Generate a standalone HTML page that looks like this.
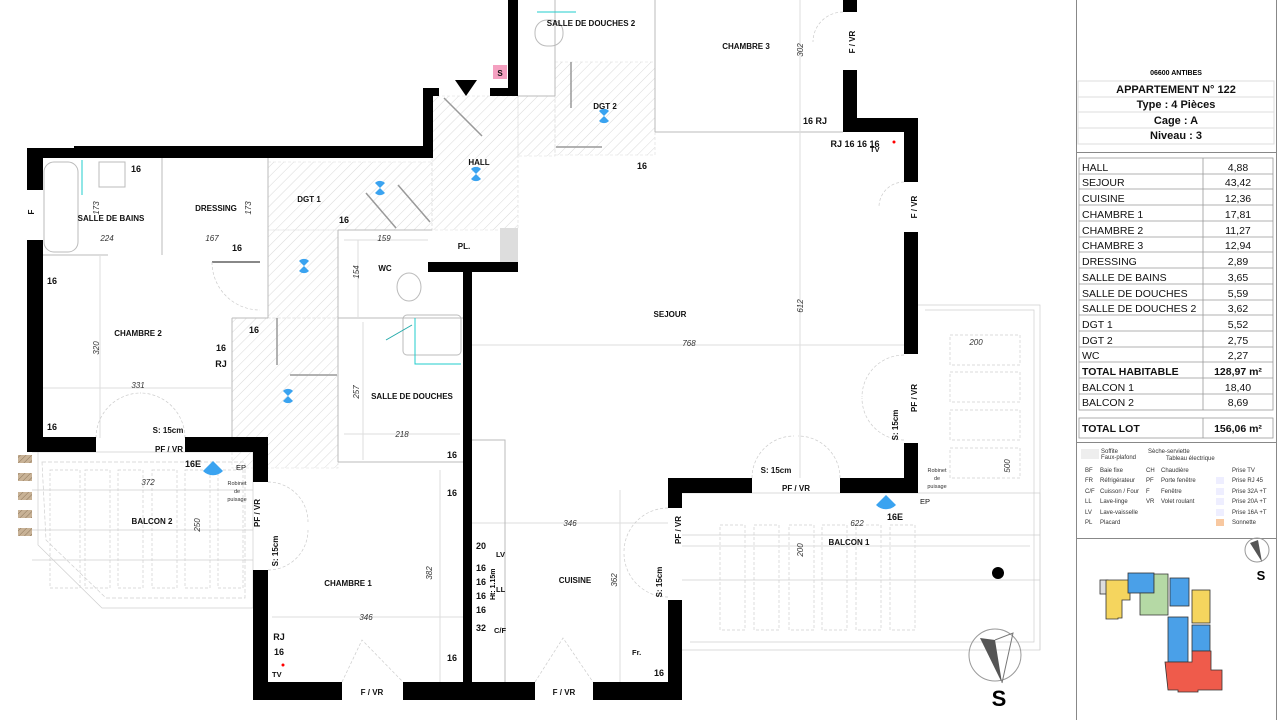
<!DOCTYPE html>
<html><head><meta charset="utf-8"><style>
html,body{margin:0;padding:0;background:#fff;}
svg{display:block;font-family:"Liberation Sans",sans-serif;}
.l{font-weight:bold;font-size:8px;fill:#111;}
.d{font-style:italic;font-size:8px;fill:#333;}
.b{font-weight:bold;font-size:9px;fill:#111;}
.t{font-size:10.5px;fill:#111;}
.tb{font-size:10.5px;font-weight:bold;fill:#111;}
.hd{font-size:11px;font-weight:bold;fill:#111;}
.lg{font-size:6px;fill:#333;}
</style></head><body>
<svg width="1280" height="720" viewBox="0 0 1280 720">
<defs>
<pattern id="h" width="7" height="7" patternUnits="userSpaceOnUse" patternTransform="rotate(45)">
<line x1="0" y1="0" x2="0" y2="7" stroke="#cfcfcf" stroke-width="0.8"/></pattern>
<pattern id="br" width="4" height="4" patternUnits="userSpaceOnUse" patternTransform="rotate(45)">
<rect width="4" height="4" fill="#c8b296"/><line x1="0" y1="0" x2="0" y2="4" stroke="#8d765a" stroke-width="1"/></pattern>
<g id="v"><path d="M-5 -5 A7 7 0 0 1 5 -5 L0 0 Z" fill="#3aa3f0"/><path d="M-5 5 A7 7 0 0 0 5 5 L0 0 Z" fill="#3aa3f0"/></g>
</defs>
<g fill="url(#h)" stroke="#ddd" stroke-width="0.6" stroke-dasharray="3,2">
<rect x="268" y="162" width="164" height="68"/>
<rect x="268" y="230" width="70" height="88"/>
<rect x="432" y="96" width="86" height="134"/>
<rect x="518" y="96" width="37" height="60"/>
<rect x="555" y="62" width="100" height="93"/>
<rect x="232" y="318" width="106" height="150"/>
</g>
<g fill="none" stroke="#cfcfcf" stroke-width="0.7">
<path d="M32 452 H253 V608 H102 L38 545 V452"/>
<path d="M42 462 H245 V598 H106 L46 540 Z" stroke-dasharray="4,2"/>
<path d="M682 493 H1040 V650 H682"/>
<path d="M918 305 H1040 V650" />
<path d="M925 310 H1034 V642 H690"/>
<g stroke-dasharray="3,2">
<rect x="50" y="470" width="30" height="118"/><rect x="85" y="470" width="25" height="118"/><rect x="118" y="470" width="25" height="118"/><rect x="152" y="470" width="25" height="118"/><rect x="185" y="470" width="25" height="118"/><rect x="218" y="470" width="25" height="118"/>
<rect x="720" y="525" width="25" height="105"/><rect x="754" y="525" width="25" height="105"/><rect x="789" y="525" width="25" height="105"/><rect x="822" y="525" width="25" height="105"/><rect x="856" y="525" width="25" height="105"/><rect x="890" y="525" width="25" height="105"/>
<rect x="950" y="335" width="70" height="30"/><rect x="950" y="372" width="70" height="30"/><rect x="950" y="410" width="70" height="30"/><rect x="950" y="448" width="70" height="30"/>
</g>
<line x1="32" y1="490" x2="253" y2="490"/><line x1="32" y1="530" x2="253" y2="530"/><line x1="32" y1="560" x2="253" y2="560"/>
<line x1="682" y1="535" x2="1040" y2="535"/><line x1="682" y1="580" x2="1040" y2="580"/>
</g>
<g fill="url(#br)"><rect x="18" y="455" width="14" height="8"/><rect x="18" y="473" width="14" height="8"/><rect x="18" y="492" width="14" height="8"/><rect x="18" y="510" width="14" height="8"/><rect x="18" y="528" width="14" height="8"/></g>
<g fill="none" stroke="#bbb" stroke-width="1">
<line x1="268" y1="158" x2="268" y2="318"/>
<line x1="338" y1="230" x2="338" y2="462"/>
<line x1="338" y1="230" x2="432" y2="230"/>
<line x1="338" y1="318" x2="463" y2="318"/>
<line x1="338" y1="462" x2="463" y2="462"/>
<line x1="232" y1="318" x2="232" y2="438"/>
<line x1="232" y1="318" x2="268" y2="318"/>
<line x1="162" y1="158" x2="162" y2="255"/>
<line x1="42" y1="255" x2="108" y2="255"/>
<line x1="212" y1="262" x2="260" y2="262" stroke="#888" stroke-width="2"/>
<line x1="555" y1="0" x2="555" y2="96"/>
<line x1="518" y1="96" x2="555" y2="96"/>
<line x1="655" y1="0" x2="655" y2="132"/>
<line x1="655" y1="132" x2="843" y2="132"/>
<line x1="472" y1="345" x2="904" y2="345" stroke="#ddd"/>
<line x1="800" y1="0" x2="800" y2="478" stroke="#ddd"/>
<line x1="42" y1="388" x2="232" y2="388" stroke="#ddd"/>
<line x1="100" y1="255" x2="100" y2="438" stroke="#ddd"/>
<line x1="272" y1="617" x2="463" y2="617" stroke="#ddd"/>
<line x1="440" y1="470" x2="440" y2="682" stroke="#ddd"/>
<line x1="472" y1="523" x2="668" y2="523" stroke="#ddd"/>
<line x1="620" y1="490" x2="620" y2="682" stroke="#ddd"/>
<line x1="682" y1="546" x2="1030" y2="546" stroke="#ddd"/>
<line x1="358" y1="240" x2="358" y2="318" stroke="#ddd"/>
<line x1="344" y1="240" x2="428" y2="240" stroke="#ddd"/>
<line x1="344" y1="434" x2="460" y2="434" stroke="#ddd"/>
<line x1="363" y1="322" x2="363" y2="460" stroke="#ddd"/>
<line x1="366" y1="193" x2="396" y2="228" stroke="#999" stroke-width="1.5"/>
<line x1="398" y1="185" x2="430" y2="222" stroke="#999" stroke-width="1.5"/>
<line x1="444" y1="98" x2="482" y2="136" stroke="#999" stroke-width="1.5"/>
<line x1="571" y1="62" x2="571" y2="108" stroke="#999" stroke-width="1.5"/>
<line x1="556" y1="147" x2="602" y2="147" stroke="#999" stroke-width="1.5"/>
<line x1="277" y1="318" x2="277" y2="365" stroke="#999" stroke-width="1.5"/>
<line x1="290" y1="375" x2="337" y2="375" stroke="#999" stroke-width="1.5"/>
<rect x="403" y="315" width="58" height="40" rx="4"/>
<ellipse cx="409" cy="287" rx="12" ry="14"/>
<rect x="44" y="162" width="34" height="90" rx="10"/>
<rect x="99" y="162" width="26" height="25"/>
<rect x="535" y="20" width="28" height="26" rx="12"/>
<path d="M472 440 H505 V682" />
</g>
<line x1="82" y1="160" x2="82" y2="195" stroke="#2cc" stroke-width="1"/>
<line x1="537" y1="12" x2="576" y2="12" stroke="#2cc" stroke-width="1"/>
<line x1="386" y1="340" x2="412" y2="325" stroke="#2aa" stroke-width="1"/>
<path d="M415 318 V364 H461" fill="none" stroke="#2cc" stroke-width="1"/>
<g fill="none" stroke="#ccc" stroke-width="0.7" stroke-dasharray="3,2">
<path d="M96 438 A45 45 0 0 1 141 393"/><path d="M185 438 A45 45 0 0 0 140 393"/>
<path d="M268 482 A40 40 0 0 1 308 522"/><path d="M268 570 A40 40 0 0 0 308 530"/>
<path d="M342 682 L362 640 L403 682"/><path d="M535 682 L563 638 L593 682"/>
<path d="M752 478 A42 42 0 0 1 794 436"/><path d="M840 478 A42 42 0 0 0 798 436"/>
<path d="M904 355 A42 42 0 0 0 862 397"/><path d="M904 440 A42 42 0 0 1 862 398"/>
<path d="M668 508 A44 44 0 0 0 624 552"/><path d="M668 597 A44 44 0 0 1 624 553"/>
<path d="M904 182 A25 25 0 0 0 879 207"/><path d="M843 12 A30 30 0 0 0 813 42"/>
<path d="M212 262 A48 48 0 0 0 260 310"/>
</g>
<g fill="#000">
<rect x="27" y="152" width="16" height="38"/><rect x="27" y="240" width="16" height="212"/>
<rect x="27" y="148" width="405" height="10"/><rect x="74" y="146" width="358" height="12"/>
<rect x="423" y="88" width="10" height="70"/><rect x="423" y="88" width="16" height="8"/>
<rect x="490" y="88" width="28" height="8"/><rect x="508" y="0" width="10" height="96"/>
<rect x="27" y="437" width="69" height="15"/><rect x="185" y="437" width="83" height="15"/>
<rect x="253" y="437" width="15" height="45"/><rect x="253" y="570" width="15" height="130"/>
<rect x="253" y="682" width="89" height="18"/><rect x="403" y="682" width="132" height="18"/>
<rect x="593" y="682" width="89" height="18"/>
<rect x="463" y="262" width="9" height="438"/><rect x="428" y="262" width="90" height="10"/>
<rect x="668" y="478" width="14" height="30"/><rect x="668" y="600" width="14" height="100"/>
<rect x="668" y="478" width="84" height="15"/><rect x="840" y="478" width="78" height="15"/>
<rect x="904" y="443" width="14" height="50"/><rect x="904" y="232" width="14" height="122"/>
<rect x="904" y="118" width="14" height="64"/><rect x="843" y="118" width="75" height="14"/>
<rect x="843" y="70" width="14" height="62"/><rect x="843" y="0" width="14" height="12"/>
</g>
<rect x="500" y="228" width="18" height="34" fill="#ddd"/>
<polygon points="455,80 477,80 466,96" fill="#000"/>
<rect x="493" y="65" width="14" height="14" fill="#f4a0c0"/><text x="500" y="76" class="l" text-anchor="middle">S</text>
<circle cx="998" cy="573" r="6" fill="#000"/>
<path d="M876 505 L886 495 L896 505 A14 14 0 0 1 876 505Z" fill="#3aa3f0"/>
<path d="M203 471 L213 461 L223 471 A14 14 0 0 1 203 471Z" fill="#3aa3f0"/>
<use href="#v" x="380" y="188"/><use href="#v" x="476" y="174"/><use href="#v" x="604" y="116"/><use href="#v" x="304" y="266"/><use href="#v" x="288" y="396"/>
<g class="l" text-anchor="middle">
<text x="111" y="221">SALLE DE BAINS</text><text x="216" y="211">DRESSING</text><text x="309" y="202">DGT 1</text>
<text x="479" y="165">HALL</text><text x="591" y="26">SALLE DE DOUCHES 2</text><text x="605" y="109">DGT 2</text>
<text x="746" y="49">CHAMBRE 3</text><text x="385" y="271">WC</text><text x="464" y="249">PL.</text>
<text x="138" y="336">CHAMBRE 2</text><text x="412" y="399">SALLE DE DOUCHES</text><text x="670" y="317">SEJOUR</text>
<text x="152" y="524">BALCON 2</text><text x="348" y="586">CHAMBRE 1</text><text x="575" y="583">CUISINE</text>
<text x="849" y="545">BALCON 1</text>
<text x="169" y="452">PF / VR</text><text x="796" y="491">PF / VR</text><text x="372" y="695">F / VR</text><text x="564" y="695">F / VR</text>
<text x="168" y="433">S: 15cm</text><text x="776" y="473">S: 15cm</text>
</g>
<g class="l" text-anchor="middle">
<text transform="translate(260,513) rotate(-90)">PF / VR</text><text transform="translate(278,551) rotate(-90)">S: 15cm</text>
<text transform="translate(681,530) rotate(-90)">PF / VR</text><text transform="translate(662,582) rotate(-90)">S: 15cm</text>
<text transform="translate(917,398) rotate(-90)">PF / VR</text><text transform="translate(898,425) rotate(-90)">S: 15cm</text>
<text transform="translate(917,207) rotate(-90)">F / VR</text><text transform="translate(855,42) rotate(-90)">F / VR</text>
<text transform="translate(34,212) rotate(-90)">F</text>
</g>
<g class="b" text-anchor="middle">
<text x="136" y="172">16</text><text x="237" y="251">16</text><text x="344" y="223">16</text><text x="52" y="284">16</text>
<text x="254" y="333">16</text><text x="221" y="351">16</text><text x="221" y="367">RJ</text><text x="52" y="430">16</text>
<text x="642" y="169">16</text><text x="815" y="124">16 RJ</text><text x="855" y="147">RJ 16 16 16</text>
<text x="452" y="458">16</text><text x="452" y="496">16</text><text x="452" y="661">16</text><text x="193" y="467">16E</text>
<text x="279" y="640">RJ</text><text x="279" y="655">16</text><text x="481" y="549">20</text><text x="481" y="571">16</text>
<text x="481" y="585">16</text><text x="481" y="599">16</text><text x="481" y="613">16</text><text x="481" y="631">32</text>
<text x="659" y="676">16</text><text x="895" y="520">16E</text>
</g>
<g font-size="7.5" fill="#111" font-weight="bold"><text x="272" y="677">TV</text><text x="870" y="152">TV</text>
<text x="496" y="557">LV</text><text x="496" y="592">LL</text><text x="494" y="633">C/F</text><text x="632" y="655">Fr.</text>
<text x="236" y="470" font-weight="normal">EP</text><text x="920" y="504" font-weight="normal">EP</text></g>
<text transform="translate(495,600) rotate(-90)" font-size="7" font-weight="bold">Ht: 1.15m</text>
<g font-size="5.5" fill="#333" text-anchor="middle"><text x="237" y="485">Robinet</text><text x="237" y="493">de</text><text x="237" y="501">puisage</text>
<text x="937" y="472">Robinet</text><text x="937" y="480">de</text><text x="937" y="488">puisage</text></g>
<g class="d" text-anchor="middle">
<text x="107" y="241">224</text><text x="212" y="241">167</text><text x="384" y="241">159</text><text x="138" y="388">331</text>
<text x="402" y="437">218</text><text x="366" y="620">346</text><text x="148" y="485">372</text><text x="570" y="526">346</text>
<text x="689" y="346">768</text><text x="857" y="526">622</text><text x="976" y="345">200</text>
<text transform="translate(99,208) rotate(-90)">173</text><text transform="translate(251,208) rotate(-90)">173</text>
<text transform="translate(359,272) rotate(-90)">154</text><text transform="translate(359,392) rotate(-90)">257</text>
<text transform="translate(99,348) rotate(-90)">320</text><text transform="translate(432,573) rotate(-90)">382</text>
<text transform="translate(617,580) rotate(-90)">362</text><text transform="translate(803,306) rotate(-90)">612</text>
<text transform="translate(803,50) rotate(-90)">302</text><text transform="translate(200,525) rotate(-90)">250</text>
<text transform="translate(803,550) rotate(-90)">200</text><text transform="translate(1010,466) rotate(-90)">500</text>
</g>
<circle cx="283" cy="665" r="1.5" fill="red"/><circle cx="894" cy="142" r="1.5" fill="red"/>
<g><circle cx="995" cy="655" r="26" fill="none" stroke="#999"/><polygon points="980,638 995,640 1002,683" fill="#555"/><polyline points="995,640 1013,633 1002,683" fill="none" stroke="#777"/><text x="999" y="706" font-size="22" font-weight="bold" text-anchor="middle">S</text></g>
<line x1="1076.5" y1="0" x2="1076.5" y2="720" stroke="#888"/><line x1="1276.5" y1="0" x2="1276.5" y2="720" stroke="#888"/>
<text x="1176" y="75" text-anchor="middle" font-size="7" font-weight="bold">06600 ANTIBES</text>
<g fill="none" stroke="#ddd"><rect x="1078" y="81" width="196" height="16"/><rect x="1078" y="97" width="196" height="15"/><rect x="1078" y="112" width="196" height="16"/><rect x="1078" y="128" width="196" height="16"/></g>
<g class="hd" text-anchor="middle"><text x="1176" y="93">APPARTEMENT N° 122</text><text x="1176" y="108">Type : 4 Pièces</text><text x="1176" y="124">Cage : A</text><text x="1176" y="139">Niveau : 3</text></g>
<line x1="1077" y1="152.5" x2="1276" y2="152.5" stroke="#888"/>
<g fill="none" stroke="#999" stroke-width="0.8">
<rect x="1079" y="158" width="194" height="252"/><line x1="1203" y1="158" x2="1203" y2="410"/>
<line x1="1079" y1="174" x2="1273" y2="174"/><line x1="1079" y1="189" x2="1273" y2="189"/><line x1="1079" y1="205" x2="1273" y2="205"/><line x1="1079" y1="221" x2="1273" y2="221"/><line x1="1079" y1="237" x2="1273" y2="237"/><line x1="1079" y1="252" x2="1273" y2="252"/><line x1="1079" y1="268" x2="1273" y2="268"/><line x1="1079" y1="284" x2="1273" y2="284"/><line x1="1079" y1="300" x2="1273" y2="300"/><line x1="1079" y1="315" x2="1273" y2="315"/><line x1="1079" y1="331" x2="1273" y2="331"/><line x1="1079" y1="347" x2="1273" y2="347"/><line x1="1079" y1="362" x2="1273" y2="362"/><line x1="1079" y1="378" x2="1273" y2="378"/><line x1="1079" y1="394" x2="1273" y2="394"/>
<rect x="1079" y="418" width="194" height="20"/><line x1="1203" y1="418" x2="1203" y2="438"/>
</g>
<g class="t"><text x="1082" y="171">HALL</text><text x="1082" y="186">SEJOUR</text><text x="1082" y="202">CUISINE</text><text x="1082" y="218">CHAMBRE 1</text><text x="1082" y="234">CHAMBRE 2</text><text x="1082" y="249">CHAMBRE 3</text><text x="1082" y="265">DRESSING</text><text x="1082" y="281">SALLE DE BAINS</text><text x="1082" y="297">SALLE DE DOUCHES</text><text x="1082" y="312">SALLE DE DOUCHES 2</text><text x="1082" y="328">DGT 1</text><text x="1082" y="344">DGT 2</text><text x="1082" y="359">WC</text><text x="1082" y="391">BALCON 1</text><text x="1082" y="406">BALCON 2</text></g>
<g class="t" text-anchor="middle"><text x="1238" y="171">4,88</text><text x="1238" y="186">43,42</text><text x="1238" y="202">12,36</text><text x="1238" y="218">17,81</text><text x="1238" y="234">11,27</text><text x="1238" y="249">12,94</text><text x="1238" y="265">2,89</text><text x="1238" y="281">3,65</text><text x="1238" y="297">5,59</text><text x="1238" y="312">3,62</text><text x="1238" y="328">5,52</text><text x="1238" y="344">2,75</text><text x="1238" y="359">2,27</text><text x="1238" y="391">18,40</text><text x="1238" y="406">8,69</text></g>
<text x="1082" y="375" class="tb">TOTAL HABITABLE</text><text x="1238" y="375" class="tb" text-anchor="middle" font-size="11.5">128,97 m²</text>
<text x="1082" y="432" class="tb">TOTAL LOT</text><text x="1238" y="432" class="tb" text-anchor="middle" font-size="11.5">156,06 m²</text>
<line x1="1077" y1="442.5" x2="1276" y2="442.5" stroke="#888"/>
<rect x="1081" y="449" width="18" height="10" fill="#eee"/>
<g class="lg"><text x="1101" y="453">Soffite</text><text x="1101" y="459">Faux-plafond</text><text x="1148" y="453">Sèche-serviette</text><text x="1166" y="460">Tableau électrique</text>
<text x="1085" y="472">BF</text><text x="1100" y="472">Baie fixe</text><text x="1085" y="482">FR</text><text x="1100" y="482">Réfrigérateur</text><text x="1085" y="493">C/F</text><text x="1100" y="493">Cuisson / Four</text><text x="1085" y="503">LL</text><text x="1100" y="503">Lave-linge</text><text x="1085" y="514">LV</text><text x="1100" y="514">Lave-vaisselle</text><text x="1085" y="524">PL</text><text x="1100" y="524">Placard</text>
<text x="1146" y="472">CH</text><text x="1161" y="472">Chaudière</text><text x="1146" y="482">PF</text><text x="1161" y="482">Porte fenêtre</text><text x="1146" y="493">F</text><text x="1161" y="493">Fenêtre</text><text x="1146" y="503">VR</text><text x="1161" y="503">Volet roulant</text>
<text x="1232" y="472">Prise TV</text><text x="1232" y="482">Prise RJ 45</text><text x="1232" y="493">Prise 32A +T</text><text x="1232" y="503">Prise 20A +T</text><text x="1232" y="514">Prise 16A +T</text><text x="1232" y="524">Sonnette</text></g>
<g fill="#eef"><rect x="1216" y="477" width="8" height="7"/><rect x="1216" y="488" width="8" height="7"/><rect x="1216" y="498" width="8" height="7"/><rect x="1216" y="509" width="8" height="7"/></g><rect x="1216" y="519" width="8" height="7" fill="#f8c8a0"/>
<line x1="1077" y1="538.5" x2="1276" y2="538.5" stroke="#888"/>
<g stroke="#333" stroke-width="0.8">
<rect x="1100" y="580" width="8" height="14" fill="#ddd"/>
<path d="M1106 580 H1130 V600 H1122 V618 H1118 V619 H1106Z" fill="#f5d55e"/>
<rect x="1128" y="573" width="26" height="20" fill="#4aa0e8"/>
<path d="M1154 574 H1168 V615 H1140 V593 H1154Z" fill="#b5d9a5"/>
<rect x="1170" y="578" width="19" height="28" fill="#4aa0e8"/>
<rect x="1192" y="590" width="18" height="33" fill="#f5d55e"/>
<rect x="1168" y="617" width="20" height="45" fill="#4aa0e8"/>
<rect x="1192" y="625" width="18" height="26" fill="#4aa0e8"/>
<path d="M1165 662 H1192 V651 H1211 V670 H1222 V690 H1198 V692 H1178 V690 H1168 Z" fill="#ef5b4b"/>
</g>
<g><circle cx="1257" cy="550" r="12" fill="none" stroke="#999"/><polygon points="1250,543 1258,540 1262,562" fill="#555"/><text x="1261" y="580" font-size="13" font-weight="bold" text-anchor="middle">S</text></g>
</svg>
</body></html>
